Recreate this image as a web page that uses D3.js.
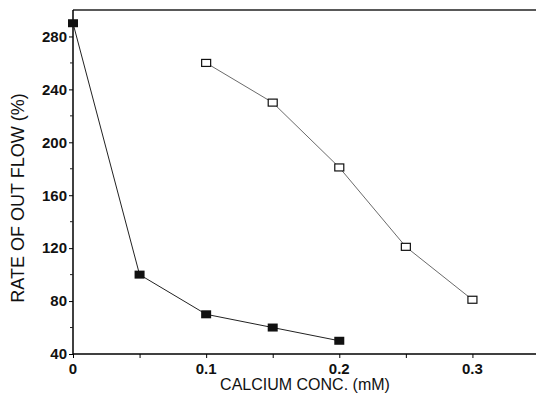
<!DOCTYPE html>
<html>
<head>
<meta charset="utf-8">
<script src="https://cdn.jsdelivr.net/npm/d3@7"></script>
<style>
  body { margin: 0; background: #fff; }
  text { font-family: "Liberation Sans", Arial, sans-serif; }
</style>
</head>
<body>
<svg></svg>
<script>
// data
const conc = [0, 0.05, 0.1, 0.15, 0.2, 0.25, 0.3];
const filledX = [0, 0.05, 0.1, 0.15, 0.2];
const filledY = [290, 100, 70, 60, 50];
const openX = [0.1, 0.15, 0.2, 0.25, 0.3];
const openY = [260, 230, 181, 121, 81];
const yTicks = [40, 80, 120, 160, 200, 240, 280];
const yMinor = [60, 100, 140, 180, 220, 260];
const xLabels = [0, 0.1, 0.2, 0.3];

let width = 536, height = 397;
let margin = { top: 10, bottom: 43, left: 73, right: 0 };

let svg = d3.select('svg')
    .attr('width', width)
    .attr('height', height);

let xScale = d3.scaleLinear()
    .domain([0, 0.35])
    .range([margin.left, margin.left + 466]);

let yScale = d3.scaleLinear()
    .domain([40, 300])
    .range([height - margin.bottom, margin.top]);

// top border line
svg.append('line')
    .attr('x1', margin.left).attr('x2', width)
    .attr('y1', margin.top).attr('y2', margin.top)
    .attr('stroke', '#222').attr('stroke-width', 1.5);

let xAxis = svg.append('g')
    .attr('transform', `translate(0, ${height - margin.bottom})`)
    .call(d3.axisBottom(xScale).tickValues(conc).tickSize(4).tickFormat(''));
xAxis.select('.domain').attr('d', `M${margin.left},0H${width}`).attr('stroke-width', 1.5);

xAxis.selectAll('.lbl')
    .data(xLabels)
    .enter()
    .append('text')
    .attr('x', d => xScale(d))
    .attr('y', 20)
    .attr('text-anchor', 'middle')
    .style('font-size', '15px')
    .style('font-weight', 'bold')
    .attr('fill', '#111')
    .text(d => d === 0 ? '0' : d.toFixed(1));

let yAxis = svg.append('g')
    .attr('transform', `translate(${margin.left}, 0)`)
    .call(d3.axisLeft(yScale).tickValues(yTicks).tickSize(4).tickPadding(2));
yAxis.select('.domain').attr('d', `M0,${margin.top}V${height - margin.bottom}`).attr('stroke-width', 1.5);
yAxis.selectAll('.tick text')
    .style('font-size', '15px')
    .style('font-weight', 'bold')
    .attr('fill', '#111');

yAxis.selectAll('.minor')
    .data(yMinor)
    .enter()
    .append('line')
    .attr('x1', -3).attr('x2', 0)
    .attr('y1', d => yScale(d)).attr('y2', d => yScale(d))
    .attr('stroke', '#222');

svg.append('text')
    .attr('x', 305)
    .attr('y', 390)
    .attr('text-anchor', 'middle')
    .style('font-size', '16px')
    .attr('fill', '#111')
    .text('CALCIUM CONC. (mM)');

svg.append('text')
    .attr('transform', 'translate(24, 198) rotate(-90)')
    .attr('text-anchor', 'middle')
    .style('font-size', '18px')
    .attr('fill', '#111')
    .text('RATE OF OUT FLOW (%)');

let line = d3.line()
    .x(d => xScale(d[0]))
    .y(d => yScale(d[1]));

let filled = filledX.map((x, i) => [x, filledY[i]]);
let open = openX.map((x, i) => [x, openY[i]]);

svg.append('path')
    .datum(filled)
    .attr('d', line)
    .attr('fill', 'none')
    .attr('stroke', '#222')
    .attr('stroke-width', 1);

svg.append('path')
    .datum(open)
    .attr('d', line)
    .attr('fill', 'none')
    .attr('stroke', '#444')
    .attr('stroke-width', 0.8);

svg.selectAll('.filled')
    .data(filled)
    .enter()
    .append('rect')
    .attr('x', d => xScale(d[0]) - 5)
    .attr('y', d => yScale(d[1]) - 4)
    .attr('width', 10)
    .attr('height', 8)
    .attr('fill', '#111');

svg.selectAll('.open')
    .data(open)
    .enter()
    .append('rect')
    .attr('x', d => xScale(d[0]) - 4.5)
    .attr('y', d => yScale(d[1]) - 3.5)
    .attr('width', 9)
    .attr('height', 7)
    .attr('fill', '#fff')
    .attr('stroke', '#111')
    .attr('stroke-width', 1.2);
</script>
</body>
</html>
